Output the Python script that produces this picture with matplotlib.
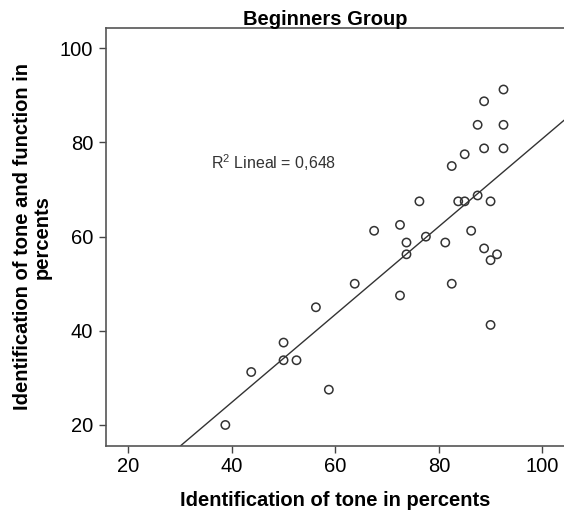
import matplotlib
matplotlib.use("Agg")
import matplotlib.pyplot as plt

plt.rcParams['font.family'] = ['Liberation Sans', 'DejaVu Sans']
plt.rcParams['mathtext.fontset'] = 'custom'
plt.rcParams['mathtext.rm'] = 'Liberation Sans'

# identification of tone (x) vs tone and function (y), percents
toneOnly = [92.5, 88.75, 87.5, 92.5, 88.75, 92.5, 85, 82.5, 76.25, 83.75,
            85, 87.5, 90, 67.5, 72.5, 86.25, 73.75, 77.5, 81.25, 88.75,
            91.25, 73.75, 90, 82.5, 72.5, 63.75, 56.25, 90, 50, 50,
            52.5, 43.75, 58.75, 38.75]
toneFunction = [91.25, 88.75, 83.75, 83.75, 78.75, 78.75, 77.5, 75, 67.5, 67.5,
                67.5, 68.75, 67.5, 61.25, 62.5, 61.25, 58.75, 60, 58.75, 57.5,
                56.25, 56.25, 55, 50, 47.5, 50, 45, 41.25, 37.5, 33.75,
                33.75, 31.25, 27.5, 20]
fitSlope = 0.933
fitIntercept = -12.5
rSquared = "0,648"
ticks = [20, 40, 60, 80, 100]

fig = plt.figure(figsize=(5.64, 5.11), dpi=100)
ax = fig.add_axes([0.1874, 0.1278, 0.8126, 0.8168])

ax.scatter(toneOnly, toneFunction, s=36, facecolors='none',
           edgecolors='#333333', linewidths=1.1, zorder=3)
ax.axline((0, fitIntercept), slope=fitSlope, color='#333333', lw=1.0)
ax.text(35.9, 74.3, r'R$^2$ Lineal = ' + rSquared, fontsize=11.5,
        color='#333333', ha='left', va='baseline')

ax.set_xlim(15.63, 104.19)
ax.set_ylim(15.6, 104.25)
ax.set_xticks(ticks)
ax.set_yticks(ticks)
ax.tick_params(labelsize=14.5, length=5, width=1, color='#444444')
ax.tick_params(axis='x', pad=3)
ax.tick_params(axis='y', pad=4)

for side in ['left', 'bottom', 'top']:
    ax.spines[side].set_color('#555555')
    ax.spines[side].set_linewidth(1.2)
ax.spines['right'].set_visible(False)

fig.text(325/564, 1 - 25/511, 'Beginners Group', fontsize=14.5,
         fontweight='bold', ha='center', va='baseline')
fig.text(335/564, 1 - 506/511, 'Identification of tone in percents',
         fontsize=14.5, fontweight='bold', ha='center', va='baseline')
fig.text(32.5/564, 1 - 237/511,
         'Identification of tone and function in\npercents',
         fontsize=14.5, fontweight='bold', ha='center', va='center',
         rotation=90, multialignment='center', linespacing=1.05)

fig.savefig('out.png', dpi=100)
